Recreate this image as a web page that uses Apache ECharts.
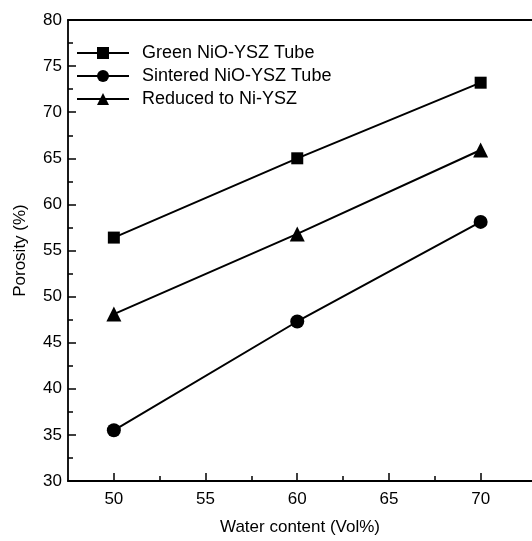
<!DOCTYPE html>
<html>
<head>
<meta charset="utf-8">
<script src="https://cdn.jsdelivr.net/npm/echarts@6/dist/echarts.min.js"></script>
<style>html,body{margin:0;padding:0;background:#fff}#c{width:532px;height:541px}</style>
</head>
<body>
<div id="c"></div>
<script>
const waterContent = [50, 60, 70];
const greenNiO = [56.4, 65.0, 73.2];
const sinteredNiO = [35.5, 47.3, 58.1];
const reducedNi = [48.1, 56.8, 65.9];
const xMajorTicks = [50, 55, 60, 65, 70];
const xMinorTicks = [52.5, 57.5, 62.5, 67.5];
const seriesNames = ['Green NiO-YSZ Tube', 'Sintered NiO-YSZ Tube', 'Reduced to Ni-YSZ'];

const font = 'Liberation Sans, Arial, sans-serif';
const pair = (ys) => waterContent.map((x, i) => [x, ys[i]]);

const chart = echarts.init(document.getElementById('c'), null, {renderer: 'canvas'});
const lineStyle = {color: '#000', width: 2};
const mk = (name, ys, symbol, size) => ({
  name, type: 'line', data: pair(ys), xAxisIndex: 0,
  symbol, symbolSize: size, showSymbol: true,
  itemStyle: {color: '#000', borderWidth: 0},
  lineStyle, emphasis: {disabled: true}, animation: false
});

chart.setOption({
  backgroundColor: '#fff',
  animation: false,
  grid: {left: 68, right: 0, top: 20, bottom: 57},
  legend: {
    orient: 'vertical', left: 71, top: 39, itemWidth: 52, itemHeight: 15, itemGap: 5,
    data: seriesNames,
    textStyle: {fontFamily: font, fontSize: 18, color: '#000', padding: [0, 0, 0, 8]},
    inactiveColor: '#000'
  },
  xAxis: [{
    type: 'value', min: 47.5, max: 72.8, position: 'bottom',
    name: 'Water content (Vol%)', nameLocation: 'middle', nameGap: 38,
    nameTextStyle: {fontFamily: font, fontSize: 17, color: '#000'},
    axisLine: {show: true, lineStyle: {color: '#000', width: 1.8}},
    axisTick: {show: true, inside: true, length: 8, customValues: xMajorTicks, lineStyle: {color: '#000', width: 1.5}},
    axisLabel: {customValues: xMajorTicks, fontFamily: font, fontSize: 17, color: '#000', margin: 10},
    splitLine: {show: false}
  }, {
    type: 'value', min: 47.5, max: 72.8, position: 'bottom', gridIndex: 0,
    axisLine: {show: false},
    axisTick: {show: true, inside: true, length: 5, customValues: xMinorTicks, lineStyle: {color: '#000', width: 1.5}},
    axisLabel: {show: false}, splitLine: {show: false}
  }, {
    type: 'value', min: 47.5, max: 72.8, position: 'top', gridIndex: 0,
    axisLine: {show: true, lineStyle: {color: '#000', width: 1.8}},
    axisTick: {show: false}, axisLabel: {show: false}, splitLine: {show: false}
  }],
  yAxis: {
    type: 'value', min: 30, max: 80, interval: 5,
    name: 'Porosity (%)', nameLocation: 'middle', nameGap: 39,
    nameTextStyle: {fontFamily: font, fontSize: 17, color: '#000'},
    axisLine: {show: true, lineStyle: {color: '#000', width: 1.8}},
    axisTick: {show: true, inside: true, length: 8, lineStyle: {color: '#000', width: 1.5}},
    minorTick: {show: true, splitNumber: 2, length: 5, lineStyle: {color: '#000', width: 1.5}},
    axisLabel: {fontFamily: font, fontSize: 17, color: '#000', margin: 6},
    splitLine: {show: false}
  },
  series: [
    mk(seriesNames[0], greenNiO, 'rect', 12),
    mk(seriesNames[1], sinteredNiO, 'circle', 14),
    mk(seriesNames[2], reducedNi, 'triangle', 15)
  ]
});
</script>
</body>
</html>
